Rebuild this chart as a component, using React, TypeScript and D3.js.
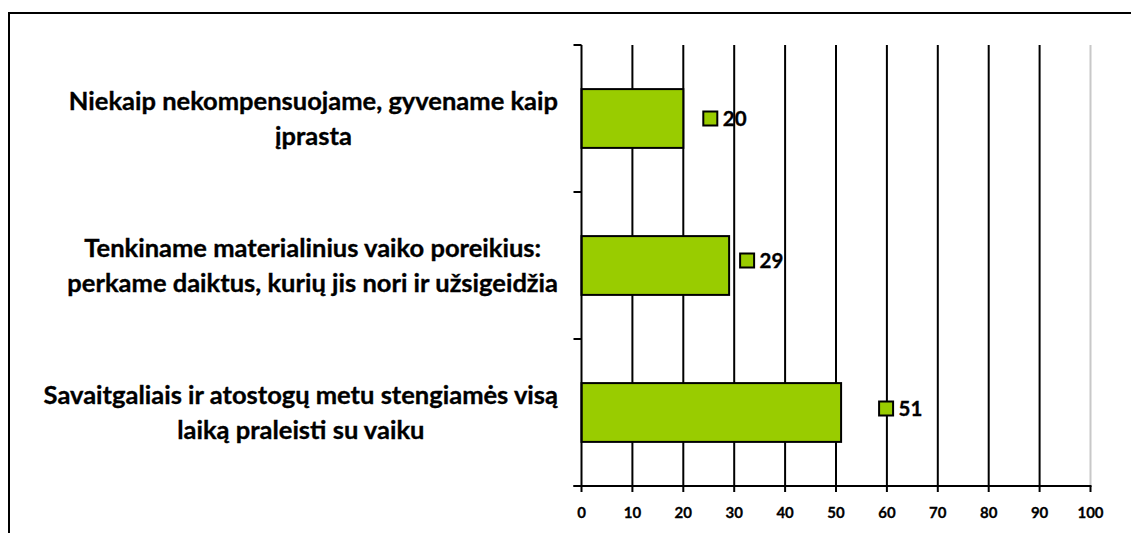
import React, { useEffect, useRef } from "react";
import * as d3 from "d3";

const categories: string[][] = [
  ["Niekaip nekompensuojame, gyvename kaip", "įprasta"],
  ["Tenkiname materialinius vaiko poreikius:", "perkame daiktus, kurių jis nori ir užsigeidžia"],
  ["Savaitgaliais ir atostogų metu stengiamės visą", "laiką praleisti su vaiku"],
];
const values: number[] = [20, 29, 51];
const xTicks: number[] = [0, 10, 20, 30, 40, 50, 60, 70, 80, 90, 100];

// label placement tweaks (as in the reference's Excel layout)
const labelDx: number[] = [27, 18, 45];
const labelDy: number[] = [0, -5, -4];

const W = 1131;
const H = 533;
const FONT = "Lato, 'Open Sans', sans-serif";
const GREEN = "#99CC00";

export default function App() {
  const ref = useRef<SVGSVGElement | null>(null);

  useEffect(() => {
    const svg = d3.select(ref.current);
    svg.selectAll("*").remove();

    const left = 581.5;
    const right = 1090.5;
    const top = 45;
    const bottom = 486;

    const x = d3.scaleLinear().domain([0, 100]).range([left, right]);
    const y = d3
      .scaleBand<number>()
      .domain(d3.range(categories.length))
      .range([top, bottom])
      .paddingInner(0.6)
      .paddingOuter(0.3);
    const band = d3.scaleBand<number>().domain(d3.range(categories.length)).range([top, bottom]);

    // outer frame (cut off at right & bottom)
    svg
      .append("rect")
      .attr("x", 9)
      .attr("y", 13)
      .attr("width", W + 20)
      .attr("height", H + 20)
      .attr("fill", "none")
      .attr("stroke", "#000")
      .attr("stroke-width", 2);

    // gridlines
    svg
      .append("g")
      .selectAll("line")
      .data(xTicks.filter((t) => t > 0))
      .join("line")
      .attr("x1", (d) => x(d))
      .attr("x2", (d) => x(d))
      .attr("y1", top)
      .attr("y2", bottom)
      .attr("stroke", (d) => (d === 100 ? "#c8c8c8" : "#000"))
      .attr("stroke-width", 2);

    // bars
    svg
      .append("g")
      .selectAll("rect")
      .data(values)
      .join("rect")
      .attr("x", x(0))
      .attr("y", (_, i) => y(i)!)
      .attr("width", (d) => x(d) - x(0))
      .attr("height", y.bandwidth())
      .attr("fill", GREEN)
      .attr("stroke", "#000")
      .attr("stroke-width", 2);

    // y axis
    svg
      .append("line")
      .attr("x1", left)
      .attr("x2", left)
      .attr("y1", top)
      .attr("y2", bottom)
      .attr("stroke", "#000")
      .attr("stroke-width", 2);
    const yTickPos = [...band.domain().map((i) => band(i)!), bottom];
    svg
      .append("g")
      .selectAll("line")
      .data(yTickPos)
      .join("line")
      .attr("x1", left - 8)
      .attr("x2", left)
      .attr("y1", (d) => d)
      .attr("y2", (d) => d)
      .attr("stroke", "#000")
      .attr("stroke-width", 2);

    // x axis
    svg
      .append("line")
      .attr("x1", left - 8)
      .attr("x2", right + 1)
      .attr("y1", bottom)
      .attr("y2", bottom)
      .attr("stroke", "#000")
      .attr("stroke-width", 2);
    svg
      .append("g")
      .selectAll("line")
      .data(xTicks)
      .join("line")
      .attr("x1", (d) => x(d))
      .attr("x2", (d) => x(d))
      .attr("y1", bottom)
      .attr("y2", bottom + 6)
      .attr("stroke", "#000")
      .attr("stroke-width", 2);
    svg
      .append("g")
      .selectAll("text")
      .data(xTicks)
      .join("text")
      .attr("x", (d) => x(d))
      .attr("y", 517.5)
      .attr("text-anchor", "middle")
      .attr("font-family", FONT)
      .attr("font-weight", 700)
      .attr("font-size", 15)
      .attr("fill", "#000")
      .attr("stroke", "#000")
      .attr("stroke-width", 0.3)
      .text((d) => String(d));

    // value labels with legend-key markers
    const lab = svg.append("g");
    values.forEach((v, i) => {
      const cx = x(v) + labelDx[i];
      const cy = y(i)! + y.bandwidth() / 2 + labelDy[i];
      lab
        .append("rect")
        .attr("x", cx - 7)
        .attr("y", cy - 7)
        .attr("width", 14)
        .attr("height", 14)
        .attr("fill", GREEN)
        .attr("stroke", "#000")
        .attr("stroke-width", 2);
      lab
        .append("text")
        .attr("x", cx + 12.5)
        .attr("y", cy + 7.5)
        .attr("font-family", FONT)
        .attr("font-weight", 700)
        .attr("font-size", 20.5)
        .attr("fill", "#000")
        .attr("stroke", "#000")
        .attr("stroke-width", 0.35)
        .text(String(v));
    });

    // category labels: block right-aligned, lines centered within block
    const catRight = 558;
    const lineH = 35;
    const catG = svg.append("g");
    categories.forEach((lines, i) => {
      const center = band(i)! + band.bandwidth() / 2;
      const g = catG.append("g");
      const texts = lines.map((ln, j) =>
        g
          .append("text")
          .attr("y", center + (j - (lines.length - 1) / 2) * lineH + 8.5)
          .attr("text-anchor", "middle")
          .attr("font-family", FONT)
          .attr("font-weight", 700)
          .attr("font-size", 25.5)
          .attr("fill", "#000")
          .attr("stroke", "#000")
          .attr("stroke-width", 0.35)
          .text(ln)
      );
      const maxW = d3.max(texts, (t) => (t.node() as SVGTextElement).getComputedTextLength()) || 0;
      texts.forEach((t) => t.attr("x", catRight - maxW / 2));
    });
  }, []);

  return (
    <svg
      ref={ref}
      width={W}
      height={H}
      style={{ position: "absolute", left: 0, top: 0, background: "#fff" }}
    />
  );
}
